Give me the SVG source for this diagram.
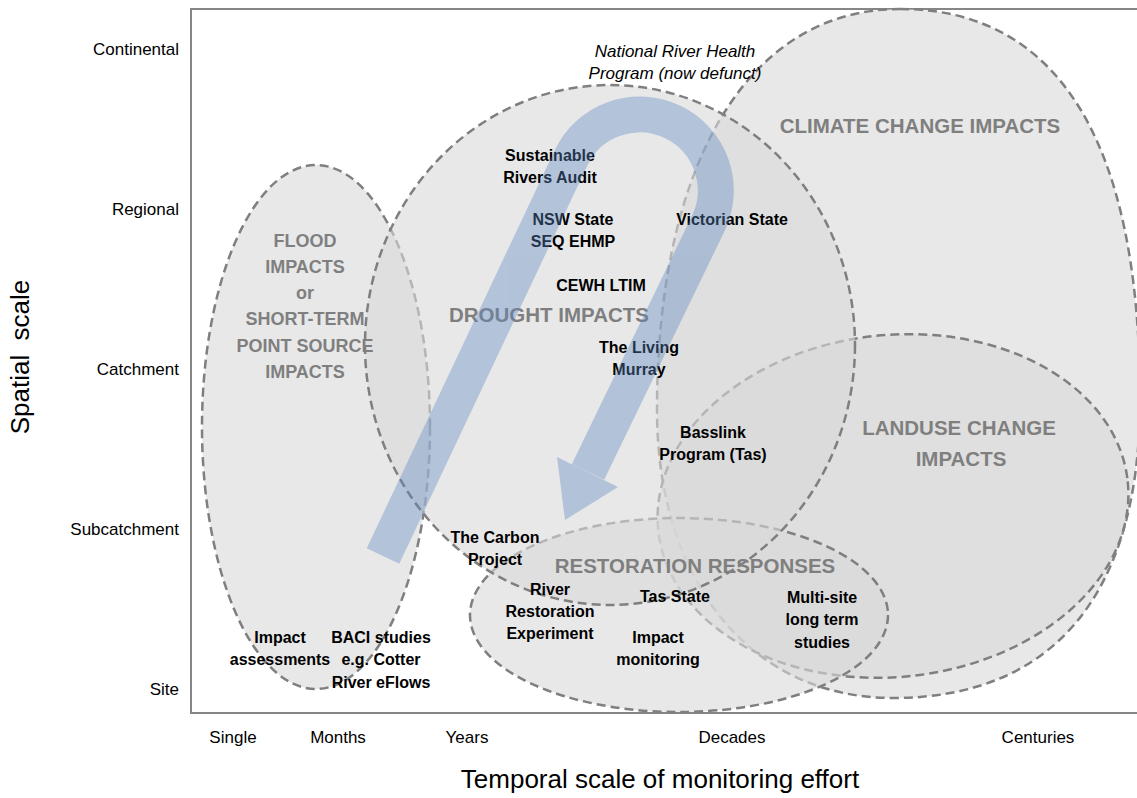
<svg xmlns="http://www.w3.org/2000/svg" width="1137" height="798" viewBox="0 0 1137 798">
  <style>
    .zone { fill: #d9d9d9; fill-opacity: 0.6; stroke: #7f7f7f; stroke-width: 2.5; stroke-dasharray: 9 5; }
    .axis { stroke: #868686; stroke-width: 2; fill: none; }
    .tick { font-family: "Liberation Sans", Arial, sans-serif; font-size: 17px; fill: #000; }
    .title { font-family: "Liberation Sans", Arial, sans-serif; font-size: 26px; fill: #000; }
    .cat { font-family: "Liberation Sans", Arial, sans-serif; font-weight: bold; font-size: 20.5px; fill: #7f7f7f; text-anchor: middle; }
    .cat-s { font-family: "Liberation Sans", Arial, sans-serif; font-weight: bold; font-size: 18px; fill: #7f7f7f; text-anchor: middle; }
    .prog { font-family: "Liberation Sans", Arial, sans-serif; font-weight: bold; font-size: 16px; fill: #000; text-anchor: middle; }
    .note { font-family: "Liberation Sans", Arial, sans-serif; font-style: italic; font-size: 17px; fill: #000; text-anchor: middle; }
    .flow { fill: none; stroke: #5b87c0; stroke-width: 36; stroke-linecap: butt; stroke-linejoin: round; }
  </style>

  <rect width="1137" height="798" fill="#ffffff"/>

  <!-- plot frame -->
  <g id="frame">
    <path class="axis" d="M1140 9 H191 V713 H1140"/>
  </g>

  <!-- axis labels -->
  <g id="y-axis" class="tick" text-anchor="end">
    <text x="179" y="55">Continental</text>
    <text x="179" y="215">Regional</text>
    <text x="179" y="375">Catchment</text>
    <text x="179" y="535">Subcatchment</text>
    <text x="179" y="695">Site</text>
  </g>
  <g id="x-axis" class="tick" text-anchor="middle">
    <text x="233" y="743">Single</text>
    <text x="338" y="743">Months</text>
    <text x="467" y="743">Years</text>
    <text x="732" y="743">Decades</text>
    <text x="1038" y="743">Centuries</text>
  </g>
  <text id="y-title" class="title" text-anchor="middle" font-size="25" transform="translate(29 357) rotate(-90)" xml:space="preserve">Spatial  scale</text>
  <text id="x-title" class="title" text-anchor="middle" x="660" y="788">Temporal scale of monitoring effort</text>

  <!-- impact zones, back to front -->
  <g id="climate-change">
    <path class="zone" d="M900 9 C1058.4 9 1140 141.9 1140 400 C1140 593.7 1053.6 698 893 698 C751.4 698 657 582.8 657 410 C657 161.4 749.3 9 900 9 Z"/>
  </g>
  <g id="landuse-change">
    <ellipse class="zone" cx="893" cy="506" rx="236" ry="171" transform="rotate(-6 893 506)"/>
  </g>
  <g id="restoration">
    <ellipse class="zone" cx="679" cy="615" rx="209" ry="97"/>
  </g>
  <g id="flood">
    <ellipse class="zone" cx="316" cy="427" rx="114" ry="262"/>
  </g>
  <g id="drought">
    <ellipse class="zone" cx="610" cy="345" rx="245" ry="260"/>
  </g>

  <!-- zone titles -->
  <g id="zone-titles">
    <text class="cat" x="920" y="133">CLIMATE CHANGE IMPACTS</text>
    <text class="cat" x="959" y="435">LANDUSE CHANGE</text>
    <text class="cat" x="961" y="466">IMPACTS</text>
    <text class="cat" x="549" y="322">DROUGHT IMPACTS</text>
    <text class="cat" x="695" y="573">RESTORATION RESPONSES</text>
    <text class="cat-s" x="305" y="247">FLOOD</text>
    <text class="cat-s" x="305" y="273">IMPACTS</text>
    <text class="cat-s" x="305" y="299">or</text>
    <text class="cat-s" x="305" y="325">SHORT-TERM</text>
    <text class="cat-s" x="305" y="352">POINT SOURCE</text>
    <text class="cat-s" x="305" y="378">IMPACTS</text>
  </g>

  <!-- monitoring programs -->
  <g id="nrhp"><text class="note" x="675" y="57">National River Health</text><text class="note" x="675" y="79">Program (now defunct)</text></g>
  <g id="sra"><text class="prog" x="550" y="161">Sustainable</text><text class="prog" x="550" y="183">Rivers Audit</text></g>
  <g id="nsw-seq"><text class="prog" x="573" y="225">NSW State</text><text class="prog" x="573" y="247">SEQ EHMP</text></g>
  <g id="victorian"><text class="prog" x="732" y="225">Victorian State</text></g>
  <g id="cewh"><text class="prog" x="601" y="291">CEWH LTIM</text></g>
  <g id="living-murray"><text class="prog" x="639" y="353">The Living</text><text class="prog" x="639" y="375">Murray</text></g>
  <g id="basslink"><text class="prog" x="713" y="438">Basslink</text><text class="prog" x="713" y="460">Program (Tas)</text></g>
  <g id="carbon"><text class="prog" x="495" y="543">The Carbon</text><text class="prog" x="495" y="565">Project</text></g>
  <g id="rre"><text class="prog" x="550" y="595">River</text><text class="prog" x="550" y="617">Restoration</text><text class="prog" x="550" y="639">Experiment</text></g>
  <g id="tas-state"><text class="prog" x="675" y="602">Tas State</text></g>
  <g id="multi-site"><text class="prog" x="822" y="603">Multi-site</text><text class="prog" x="822" y="625">long term</text><text class="prog" x="822" y="648">studies</text></g>
  <g id="impact-monitoring"><text class="prog" x="658" y="643">Impact</text><text class="prog" x="658" y="665">monitoring</text></g>
  <g id="impact-assessments"><text class="prog" x="280" y="643">Impact</text><text class="prog" x="280" y="665">assessments</text></g>
  <g id="baci"><text class="prog" x="381" y="643">BACI studies</text><text class="prog" x="381" y="665">e.g. Cotter</text><text class="prog" x="381" y="688">River eFlows</text></g>

  <!-- U-shaped progression arrow -->
  <g id="connectors" opacity="0.38">
    <path class="flow" d="M383 556 L571 158 A76 76 0 0 1 708.5 223 L588 472"/>
    <polygon fill="#5b87c0" points="557,457 618,487 565,520"/>
  </g>
</svg>
